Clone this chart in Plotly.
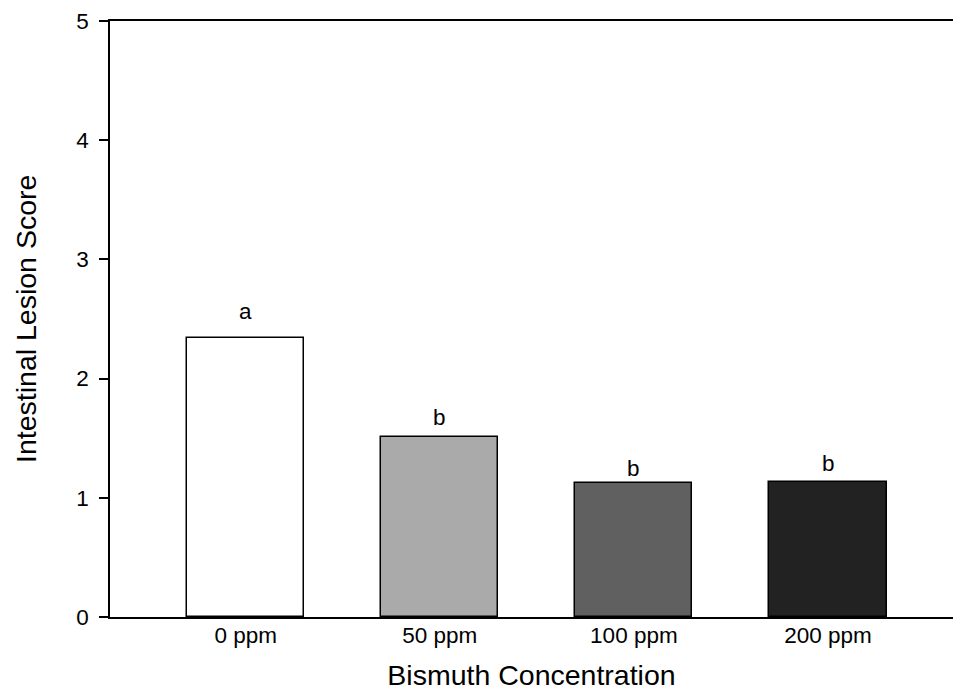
import plotly.graph_objects as go

categories = ["0 ppm", "50 ppm", "100 ppm", "200 ppm"]
lesion_scores = [2.34, 1.507, 1.124, 1.13]
sig_letters = ["a", "b", "b", "b"]
y_ticks = [0, 1, 2, 3, 4, 5]

bar_colors = ["#ffffff", "#aaaaaa", "#606060", "#222222"]
letter_shift_px = [27, 20, 15, 19]

FONT = "Liberation Sans, Arial, sans-serif"

fig = go.Figure()
fig.add_trace(go.Bar(
    x=list(range(len(categories))),
    y=lesion_scores,
    width=0.603,
    marker=dict(color=bar_colors, line=dict(color="black", width=1.5)),
    showlegend=False,
))

for i, (v, lab) in enumerate(zip(lesion_scores, sig_letters)):
    fig.add_annotation(x=i, y=v, text=lab, showarrow=False,
                       yshift=letter_shift_px[i], yanchor="middle",
                       font=dict(family=FONT, size=22.5, color="black"))

# y-axis title as a rotated annotation
fig.add_annotation(xref="paper", yref="paper", x=0, y=0.5, xshift=-84,
                   text="Intestinal Lesion Score", textangle=-90, showarrow=False,
                   xanchor="center", yanchor="middle",
                   font=dict(family=FONT, size=28.5, color="black"))

fig.update_layout(
    width=953, height=692,
    margin=dict(l=110, r=0, t=21, b=75),
    paper_bgcolor="white", plot_bgcolor="white",
    font=dict(family=FONT, color="black"),
    bargap=0,
)
fig.update_xaxes(
    range=[-0.699, 3.644],
    tickmode="array", tickvals=list(range(len(categories))), ticktext=categories,
    showline=True, linecolor="black", linewidth=1.5, mirror=True,
    ticks="", showgrid=False, zeroline=False,
    tickfont=dict(family=FONT, size=22.5),
    ticklabelstandoff=-3,
    title=dict(text="Bismuth Concentration", font=dict(family=FONT, size=28.5), standoff=18),
)
fig.update_yaxes(
    range=[0, 5],
    tickmode="array", tickvals=y_ticks,
    showline=True, linecolor="black", linewidth=1.5, mirror=False,
    ticks="outside", ticklen=9, tickwidth=1.5, tickcolor="black",
    showgrid=False, zeroline=False,
    tickfont=dict(family=FONT, size=22.5),
    ticklabelstandoff=6,
)

fig.write_html("out.html", config={"displayModeBar": False},
               post_script="document.body.style.margin='0';")
